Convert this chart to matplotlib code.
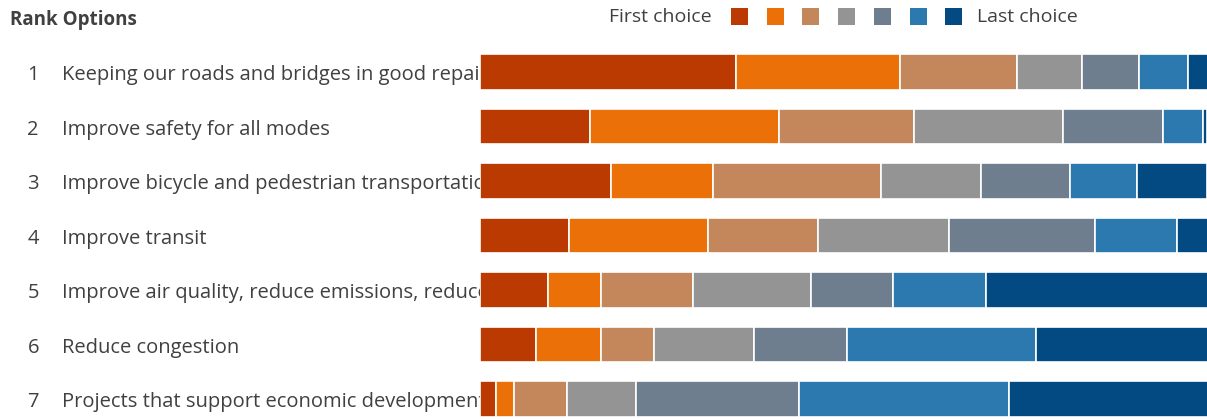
import matplotlib
matplotlib.use('Agg')
import matplotlib.pyplot as plt
from matplotlib.patches import Rectangle
import numpy as np

plt.rcParams['font.family'] = ['Open Sans', 'DejaVu Sans']

# Share of responses per rank (first choice -> last choice), percent
ranks = ['1', '2', '3', '4', '5', '6', '7']
options = [
    'Keeping our roads and bridges in good repair',
    'Improve safety for all modes',
    'Improve bicycle and pedestrian transportation',
    'Improve transit',
    'Improve air quality, reduce emissions, reduce climate impacts',
    'Reduce congestion',
    'Projects that support economic development',
]
choice1 = [35.2, 15.2, 18.1, 12.3, 9.4, 7.8, 2.3]
choice2 = [22.5, 25.9, 14.0, 19.0, 7.3, 8.9, 2.5]
choice3 = [16.1, 18.5, 23.0, 15.1, 12.6, 7.3, 7.2]
choice4 = [8.9, 20.5, 13.7, 18.1, 16.2, 13.7, 9.5]
choice5 = [7.8, 13.7, 12.3, 20.0, 11.2, 12.7, 22.4]
choice6 = [6.7, 5.5, 9.2, 11.2, 12.8, 26.0, 28.8]
choice7 = [2.9, 0.6, 9.6, 4.3, 30.5, 23.7, 27.3]

series = [choice1, choice2, choice3, choice4, choice5, choice6, choice7]
colors = ['#BA3A02', '#EB7007', '#C4875C', '#949494', '#6F7E8F', '#2C79B0', '#034A82']
text_color = '#404040'

W, H = 1207, 419
fig = plt.figure(figsize=(W / 100, H / 100), dpi=100)

# row geometry in pixels
row0, step = 72, 54.5
y_top = -row0 / step
y_bot = (H - row0) / step

x0 = 479.5
ax = fig.add_axes([x0 / W, 0, (1208 - x0) / W, 1])
ax.set_xlim(0, 100)
ax.set_ylim(y_bot, y_top)
ax.axis('off')

ypos = np.arange(len(options))
left = np.zeros(len(options))
for vals, c in zip(series, colors):
    ax.barh(ypos, vals, left=left, height=0.66, color=c,
            edgecolor='white', linewidth=1.2)
    left += np.array(vals)

# label area, clipped at the bar start
lab = fig.add_axes([0, 0, x0 / W, 1])
lab.set_xlim(0, x0)
lab.set_ylim(y_bot, y_top)
lab.axis('off')
for i, (r, name) in enumerate(zip(ranks, options)):
    lab.text(39, i + 0.06, r, ha='right', va='center', fontsize=14.5, color=text_color)
    t = lab.text(62, i + 0.06, name, ha='left', va='center', fontsize=14.5,
                 color=text_color, clip_on=True)
    t.set_clip_box(lab.bbox)

fig.text(10 / W, 1 - 20 / H, 'Rank Options', ha='left', va='center',
         fontsize=13.5, fontweight='bold', color=text_color)

# legend
ly = 1 - 17 / H
fig.text(712 / W, ly, 'First choice', ha='right', va='center',
         fontsize=14, color=text_color)
sq = 17
for k, c in enumerate(colors):
    lx = 731 + k * 35.7
    fig.patches.append(Rectangle((lx / W, (H - 17 - sq / 2) / H), sq / W, sq / H,
                                 transform=fig.transFigure, facecolor=c,
                                 edgecolor='none'))
fig.text(977 / W, ly, 'Last choice', ha='left', va='center',
         fontsize=14, color=text_color)

plt.savefig('out.png', dpi=100)
plt.close()
